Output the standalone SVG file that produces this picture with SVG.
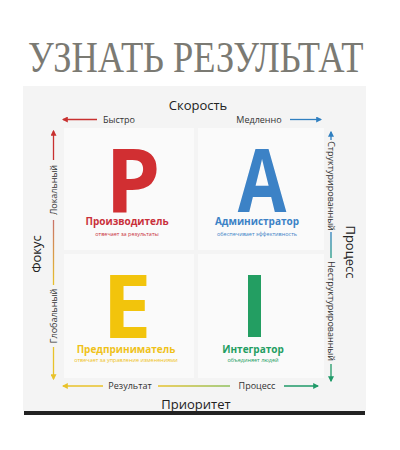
<svg xmlns="http://www.w3.org/2000/svg" width="400" height="450" viewBox="0 0 400 450">
<style>
.title{font-family:"Liberation Serif",serif;font-size:36.4px;fill:#7b7a73}
.axis{font-family:"Open Sans","Liberation Sans",sans-serif;font-size:13px;fill:#222}
.lbl{font-family:"Open Sans","Liberation Sans",sans-serif;font-size:9px;fill:#333}
.big{font-family:"Open Sans","Liberation Sans",sans-serif;font-weight:bold;font-size:88px;text-anchor:middle}
.name{font-family:"Open Sans","Liberation Sans",sans-serif;font-weight:bold;font-size:10px;text-anchor:middle}
.sub{font-family:"Open Sans","Liberation Sans",sans-serif;font-size:5.5px;text-anchor:middle}
.ln{fill:none;stroke-width:1.3}
</style>
<defs>
<marker id="mr" viewBox="0 0 10 10" refX="8" refY="5" markerWidth="6" markerHeight="6" orient="auto-start-reverse" markerUnits="userSpaceOnUse"><path d="M0,0 L10,5 L0,10 z" fill="#c8302f"/></marker>
<marker id="mb" viewBox="0 0 10 10" refX="8" refY="5" markerWidth="6" markerHeight="6" orient="auto-start-reverse" markerUnits="userSpaceOnUse"><path d="M0,0 L10,5 L0,10 z" fill="#2f7fc0"/></marker>
<marker id="my" viewBox="0 0 10 10" refX="8" refY="5" markerWidth="6" markerHeight="6" orient="auto-start-reverse" markerUnits="userSpaceOnUse"><path d="M0,0 L10,5 L0,10 z" fill="#e8c22a"/></marker>
<marker id="mg" viewBox="0 0 10 10" refX="8" refY="5" markerWidth="6" markerHeight="6" orient="auto-start-reverse" markerUnits="userSpaceOnUse"><path d="M0,0 L10,5 L0,10 z" fill="#1f9a68"/></marker>
<linearGradient id="gTop" x1="0" y1="0" x2="1" y2="0"><stop offset="0" stop-color="#c8302f"/><stop offset="1" stop-color="#2f7fc0"/></linearGradient>
<linearGradient id="gBot" gradientUnits="userSpaceOnUse" x1="158" y1="0" x2="228" y2="0"><stop offset="0" stop-color="#e8c22a"/><stop offset="1" stop-color="#8fbf5a"/></linearGradient>
<linearGradient id="gL" gradientUnits="userSpaceOnUse" x1="0" y1="219" x2="0" y2="286"><stop offset="0" stop-color="#c8706a"/><stop offset="1" stop-color="#e8c22a"/></linearGradient>
<linearGradient id="gR" gradientUnits="userSpaceOnUse" x1="0" y1="232" x2="0" y2="258"><stop offset="0" stop-color="#2f7fc0"/><stop offset="1" stop-color="#1f9a80"/></linearGradient>
</defs>
<rect width="400" height="450" fill="#fff"/>
<text class="title" transform="translate(28,72) scale(1,1.19)">УЗНАТЬ РЕЗУЛЬТАТ</text>
<rect x="23" y="86" width="343" height="325" fill="#f4f4f4"/>
<g id="panels" fill="#fafafa">
<rect x="64" y="128" width="130" height="122"/>
<rect x="198" y="128" width="126" height="122"/>
<rect x="64" y="254" width="130" height="124"/>
<rect x="198" y="254" width="126" height="124"/>
</g>
<rect x="24" y="411" width="341" height="4" fill="#222"/>
<g id="connectors">
<path class="ln" d="M97,119.5 H63" stroke="#c8302f" marker-end="url(#mr)"/>
<path class="ln" d="M141,119.5 H228" stroke="url(#gTop)"/>
<path class="ln" d="M290,119.5 H321" stroke="#2f7fc0" marker-end="url(#mb)"/>
<path class="ln" d="M53.5,160 V131" stroke="#c8302f" marker-end="url(#mr)"/>
<path class="ln" d="M53.5,220 V285" stroke="url(#gL)"/>
<path class="ln" d="M53.5,347 V379" stroke="#e8c22a" marker-end="url(#my)"/>
<path class="ln" d="M331,140 V132" stroke="#2f7fc0" marker-end="url(#mb)"/>
<path class="ln" d="M331,232 V258" stroke="url(#gR)"/>
<path class="ln" d="M331,364 V381" stroke="#1f9a68" marker-end="url(#mg)"/>
<path class="ln" d="M103,386 H63" stroke="#e8c22a" marker-end="url(#my)"/>
<path class="ln" d="M158,386 H230" stroke="url(#gBot)"/>
<path class="ln" d="M284,386 H318" stroke="#1f9a68" marker-end="url(#mg)"/>
</g>
<g id="axes">
<text class="axis" x="198" y="110" text-anchor="middle">Скорость</text>
<text class="lbl" x="119" y="122.5" text-anchor="middle">Быстро</text>
<text class="lbl" x="259" y="122.5" text-anchor="middle">Медленно</text>
<text class="lbl" transform="translate(56.5,190) rotate(-90)" text-anchor="middle">Локальный</text>
<text class="lbl" transform="translate(56.5,316) rotate(-90)" text-anchor="middle">Глобальный</text>
<text class="axis" transform="translate(40.5,254) rotate(-90)" text-anchor="middle">Фокус</text>
<text class="lbl" transform="translate(328,186) rotate(90)" text-anchor="middle">Структурированный</text>
<text class="lbl" transform="translate(328,311) rotate(90)" text-anchor="middle">Неструктурированный</text>
<text class="axis" transform="translate(346,252) rotate(90)" text-anchor="middle">Процесс</text>
<text class="lbl" x="130" y="389" text-anchor="middle">Результат</text>
<text class="lbl" x="257" y="389" text-anchor="middle">Процесс</text>
<text class="axis" x="196" y="409" text-anchor="middle">Приоритет</text>
</g>
<g id="P">
<text class="big" x="133" y="212" fill="#d12f32">P</text>
<text class="name" x="127" y="225" fill="#c9303a">Производитель</text>
<text class="sub" x="127" y="236" fill="#c9303a">отвечает за результаты</text>
</g>
<g id="A">
<text class="big" transform="translate(262,212) scale(0.8,1)" fill="#3c82c6">A</text>
<text class="name" x="257" y="225" fill="#3c82c6">Администратор</text>
<text class="sub" x="257" y="236" fill="#3c82c6">обеспечивает эффективность</text>
</g>
<g id="E">
<text class="big" x="127" y="338" fill="#f2c40c">E</text>
<text class="name" x="126" y="353" fill="#efc21a">Предприниматель</text>
<text class="sub" x="126" y="362" fill="#efc21a">отвечает за управление изменениями</text>
</g>
<g id="I">
<rect x="248" y="275" width="13" height="62" fill="#239e62"/>
<text class="name" x="253" y="353" fill="#239e62">Интегратор</text>
<text class="sub" x="253" y="362" fill="#239e62">объединяет людей</text>
</g>
</svg>
